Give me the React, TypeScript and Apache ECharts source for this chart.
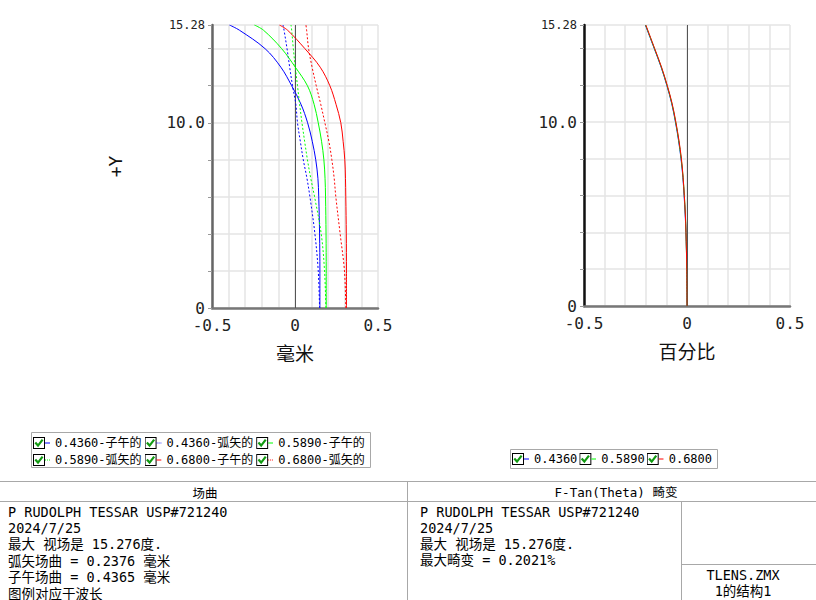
import React, { useEffect, useRef } from 'react';
import * as echarts from 'echarts';

// ---- Field curvature (left plot): x = focus shift (mm), y = field angle (deg)
const FIELD_Y = [0, 2, 4, 6, 7, 8, 9, 10, 11, 12, 13, 14, 15, 15.28];
const T_0436 = [0.150, 0.150, 0.148, 0.143, 0.138, 0.125, 0.104, 0.076, 0.036, -0.02, -0.085, -0.18, -0.335, -0.395];
const S_0436 = [0.148, 0.140, 0.120, 0.090, 0.072, 0.050, 0.032, 0.015, 0.005, -0.015, -0.032, -0.048, -0.066, -0.072];
const T_0589 = [0.188, 0.188, 0.187, 0.184, 0.181, 0.174, 0.160, 0.140, 0.115, 0.075, 0.002, -0.08, -0.19, -0.245];
const S_0589 = [0.186, 0.178, 0.158, 0.118, 0.095, 0.075, 0.058, 0.042, 0.028, 0.015, 0.002, -0.01, -0.02, -0.024];
const T_0680 = [0.310, 0.310, 0.309, 0.306, 0.304, 0.300, 0.290, 0.276, 0.247, 0.210, 0.152, 0.06, -0.045, -0.094];
const S_0680 = [0.306, 0.298, 0.272, 0.246, 0.236, 0.222, 0.204, 0.180, 0.155, 0.128, 0.103, 0.082, 0.070, 0.066];

// ---- F-Tan(Theta) distortion (right plot): x = percent, y = field angle
const DIST_Y = [0, 2, 4, 5, 6, 7, 8, 9, 10, 11, 12, 13, 14, 15.28];
const D_0436 = [0, -0.001, -0.005, -0.009, -0.014, -0.020, -0.029, -0.041, -0.056, -0.074, -0.098, -0.126, -0.159, -0.2021];
const D_0589 = [0, -0.001, -0.005, -0.008, -0.013, -0.019, -0.028, -0.040, -0.055, -0.073, -0.097, -0.125, -0.158, -0.2010];
const D_0680 = [0, -0.001, -0.005, -0.008, -0.013, -0.019, -0.027, -0.039, -0.054, -0.072, -0.096, -0.124, -0.157, -0.1998];

const FIELD_NAMES = ['0.4360-子午的', '0.4360-弧矢的', '0.5890-子午的', '0.5890-弧矢的', '0.6800-子午的', '0.6800-弧矢的'];
const DIST_NAMES = ['0.4360', '0.5890', '0.6800'];

const X_MIN = -0.5;
const X_MAX = 0.5;
const Y_MAX = 15.28;

const LEFT_TITLE = '场曲';
const RIGHT_TITLE = 'F-Tan(Theta) 畸变';
const LEFT_NOTES = ['P RUDOLPH TESSAR USP#721240', '2024/7/25', '最大 视场是 15.276度.', '弧矢场曲 = 0.2376 毫米', '子午场曲 = 0.4365 毫米', '图例对应于波长'];
const RIGHT_NOTES = ['P RUDOLPH TESSAR USP#721240', '2024/7/25', '最大 视场是 15.276度.', '最大畸变 = 0.2021%'];
const FILE_NOTES = ['TLENS.ZMX', '1的结构1'];

const BLUE = '#0000ff';
const GREEN = '#00ff00';
const RED = '#ff0000';
const MONO = "'DejaVu Sans Mono', 'Noto Sans CJK SC', monospace";
const CJK = "'Noto Sans CJK SC', 'DejaVu Sans', sans-serif";
const GRID_LINE = '#e4e4e4';
const TABLE_LINE = '#a8a8a8';

function mkIcon(color: string, dotted: boolean) {
  const svg =
    `<svg xmlns="http://www.w3.org/2000/svg" width="17" height="12" viewBox="0 0 17 12">` +
    `<rect x="0.5" y="0.5" width="11" height="11" fill="#ffffff" stroke="#000000" stroke-width="1"/>` +
    `<polyline points="2.3,5.6 5,8.6 9.6,2.6" fill="none" stroke="#119a11" stroke-width="2.2"/>` +
    `<line x1="12" y1="6" x2="17" y2="6" stroke="${color}" stroke-width="1" ${dotted ? 'stroke-dasharray="1,1"' : ''}/>` +
    `</svg>`;
  return 'image://data:image/svg+xml;charset=utf-8,' + encodeURIComponent(svg);
}

function near(a: number, b: number) {
  return Math.abs(a - b) < 1e-6;
}

function xLabel(v: number) {
  if (near(v, -0.5)) return '-0.5';
  if (near(v, 0)) return '0';
  if (near(v, 0.5)) return '0.5';
  return '';
}

function yLabel(v: number) {
  if (near(v, 0)) return '{b|0}';
  if (near(v, 10)) return '{b|10.0}';
  if (near(v, Y_MAX)) return '{s|15.28}';
  return '';
}

function lineSeries(name: string, xs: number[], ys: number[], color: string, dotted: boolean, idx: number) {
  return {
    type: 'line',
    name,
    xAxisIndex: idx,
    yAxisIndex: idx,
    data: ys.map((y, i) => [xs[i], y]),
    smooth: 0.35,
    symbol: 'none',
    showSymbol: false,
    silent: true,
    lineStyle: { color, width: 1, type: dotted ? [2, 2] : 'solid' },
    itemStyle: { color },
    z: 3,
  };
}

function zeroLine(idx: number) {
  return {
    type: 'line',
    name: 'zero' + idx,
    xAxisIndex: idx,
    yAxisIndex: idx,
    data: [],
    silent: true,
    markLine: {
      silent: true,
      symbol: 'none',
      label: { show: false },
      lineStyle: { color: '#555555', width: 1, type: 'solid' },
      data: [{ xAxis: 0 }],
      z: 2,
    },
  };
}

function xAxisCfg(idx: number, name: string) {
  return {
    type: 'value',
    gridIndex: idx,
    min: X_MIN,
    max: X_MAX,
    interval: 0.1,
    name,
    nameLocation: 'middle',
    nameGap: 35,
    nameTextStyle: { fontFamily: CJK, fontSize: 19, color: '#111' },
    axisLine: { show: true, onZero: false, lineStyle: { color: '#777777', width: 2.5 } },
    axisTick: { show: false },
    axisLabel: { formatter: xLabel, fontFamily: MONO, fontSize: 16, lineHeight: 15, color: '#222', margin: 10, showMinLabel: true, showMaxLabel: true },
    splitLine: { show: true, lineStyle: { color: GRID_LINE, width: 1.5 } },
  };
}

function yAxisCfg(idx: number, name: string, axisColor: string) {
  return {
    type: 'value',
    gridIndex: idx,
    min: 0,
    max: Y_MAX,
    interval: 2,
    name,
    nameLocation: 'middle',
    nameRotate: 90,
    nameGap: 88,
    nameTextStyle: { fontFamily: MONO, fontSize: 18, color: '#111' },
    axisLine: { show: true, onZero: false, lineStyle: { color: axisColor, width: 2.5 } },
    axisTick: { show: true, length: 4, lineStyle: { color: '#999' } },
    axisLabel: {
      formatter: yLabel,
      margin: 7,
      showMinLabel: true,
      showMaxLabel: true,
      rich: {
        b: { fontFamily: MONO, fontSize: 16, lineHeight: 13, color: '#222' },
        s: { fontFamily: MONO, fontSize: 12, lineHeight: 12, color: '#222' },
      },
    },
    splitLine: { show: true, lineStyle: { color: GRID_LINE, width: 1.5 } },
  };
}

function hLine(x1: number, y1: number, x2: number, y2: number) {
  return { type: 'line', silent: true, shape: { x1, y1, x2, y2 }, style: { stroke: TABLE_LINE, lineWidth: 1 } };
}

function txt(text: string, x: number, y: number, font: string, align = 'left') {
  return { type: 'text', silent: true, x, y, style: { text, font, fill: '#000', align, verticalAlign: 'middle' } };
}

export default function App() {
  const ref = useRef<HTMLDivElement>(null);

  useEffect(() => {
    if (!ref.current) return;
    const chart = echarts.init(ref.current, null, { renderer: 'svg' });

    const fieldColors = [BLUE, BLUE, GREEN, GREEN, RED, RED];
    const fieldDotted = [false, true, false, true, false, true];
    const fieldData = [T_0436, S_0436, T_0589, S_0589, T_0680, S_0680];
    const distColors = [BLUE, GREEN, RED];
    const distData = [D_0436, D_0589, D_0680];

    const bodyFont = `13.5px ${MONO}`;
    const graphic: any[] = [
      // legend boxes
      { type: 'rect', silent: true, shape: { x: 31.5, y: 432.5, width: 339, height: 35 }, style: { fill: 'none', stroke: TABLE_LINE, lineWidth: 1 } },
      { type: 'rect', silent: true, shape: { x: 510.5, y: 449.5, width: 207, height: 19 }, style: { fill: 'none', stroke: TABLE_LINE, lineWidth: 1 } },
      // table lines
      hLine(0, 481.5, 816, 481.5),
      hLine(0, 501.5, 816, 501.5),
      hLine(407.5, 481.5, 407.5, 600),
      hLine(681.5, 501.5, 681.5, 600),
      hLine(681.5, 564.5, 816, 564.5),
      txt(LEFT_TITLE, 205, 492, `12.5px ${CJK}`, 'center'),
      txt(RIGHT_TITLE, 616, 492, `12.5px ${MONO}`, 'center'),
      ...LEFT_NOTES.map((t, i) => txt(t, 8, 511.5 + i * 16.4, bodyFont)),
      ...RIGHT_NOTES.map((t, i) => txt(t, 420, 511.5 + i * 16.3, bodyFont)),
      ...FILE_NOTES.map((t, i) => txt(t, 743, 574.5 + i * 16, bodyFont, 'center')),
    ];

    chart.setOption({
      animation: false,
      backgroundColor: '#ffffff',
      grid: [
        { left: 212, top: 25, width: 166, height: 283, outerBoundsMode: 'none', containLabel: false },
        { left: 584, top: 25, width: 206, height: 281, outerBoundsMode: 'none', containLabel: false },
      ],
      xAxis: [xAxisCfg(0, '毫米'), xAxisCfg(1, '百分比')],
      yAxis: [yAxisCfg(0, '+Y', '#666666'), yAxisCfg(1, '', '#111111')],
      legend: [
        {
          left: 33,
          top: 436,
          width: 342,
          orient: 'horizontal',
          padding: 0,
          itemGap: 3,
          itemWidth: 17,
          itemHeight: 12,
          selectedMode: false,
          textStyle: { fontFamily: MONO, fontSize: 12, color: '#000', lineHeight: 14 },
          data: FIELD_NAMES.map((n, i) => ({ name: n, icon: mkIcon(fieldColors[i], fieldDotted[i]) })),
        },
        {
          left: 512,
          top: 452,
          orient: 'horizontal',
          padding: 0,
          itemGap: 2,
          itemWidth: 17,
          itemHeight: 12,
          selectedMode: false,
          textStyle: { fontFamily: MONO, fontSize: 12, color: '#000', lineHeight: 14 },
          data: DIST_NAMES.map((n, i) => ({ name: n, icon: mkIcon(distColors[i], false) })),
        },
      ],
      series: [
        zeroLine(0),
        zeroLine(1),
        ...FIELD_NAMES.map((n, i) => lineSeries(n, fieldData[i], FIELD_Y, fieldColors[i], fieldDotted[i], 0)),
        ...DIST_NAMES.map((n, i) => lineSeries(n, distData[i], DIST_Y, distColors[i], false, 1)),
      ],
      graphic,
    });

    return () => chart.dispose();
  }, []);

  return <div ref={ref} style={{ position: 'fixed', left: 0, top: 0, width: 816, height: 600, background: '#fff' }} />;
}
